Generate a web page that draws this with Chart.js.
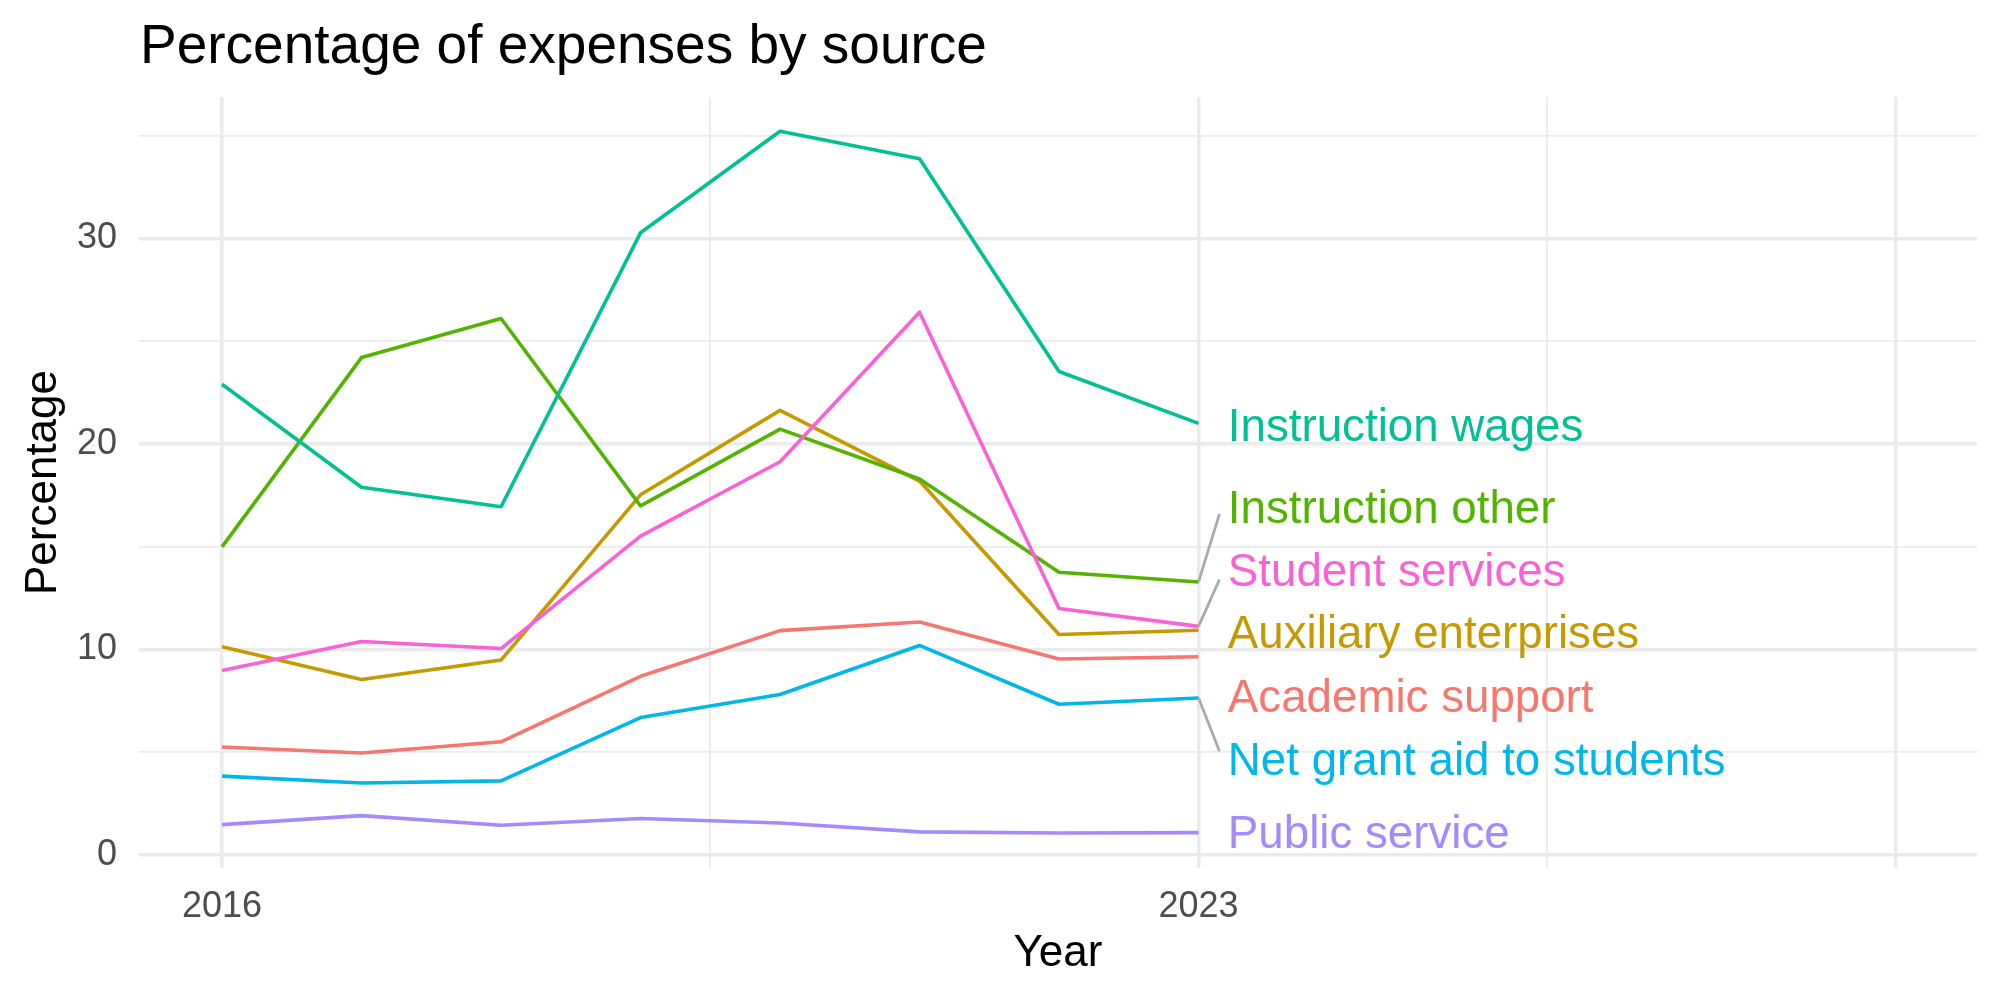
<!DOCTYPE html>
<html>
<head>
<meta charset="utf-8">
<title>Percentage of expenses by source</title>
<script src="https://cdn.jsdelivr.net/npm/chart.js@4.4.1/dist/chart.umd.min.js"></script>
<style>
  html, body { margin: 0; padding: 0; background: #ffffff; }
  #wrap { width: 2000px; height: 1000px; }
</style>
</head>
<body>
<div id="wrap"><canvas id="expensesChart" width="2000" height="1000"></canvas></div>
<script>
// Years and series values
const years = [2016, 2017, 2018, 2019, 2020, 2021, 2022, 2023];
const sources = ["Academic support", "Auxiliary enterprises", "Instruction other", "Instruction wages",
                 "Net grant aid to students", "Public service", "Student services"];
const academicSupport      = [5.25, 4.96, 5.50, 8.69, 10.91, 11.33, 9.53, 9.64];
const auxiliaryEnterprises = [10.13, 8.53, 9.48, 17.52, 21.63, 18.19, 10.72, 10.93];
const instructionOther     = [14.99, 24.20, 26.10, 16.98, 20.72, 18.29, 13.75, 13.28];
const instructionWages     = [22.90, 17.89, 16.94, 30.27, 35.21, 33.88, 23.52, 21.00];
const netGrantAid          = [3.83, 3.50, 3.60, 6.68, 7.80, 10.19, 7.33, 7.63];
const publicService        = [1.47, 1.91, 1.44, 1.77, 1.55, 1.12, 1.06, 1.08];
const studentServices      = [8.97, 10.38, 10.04, 15.51, 19.13, 26.41, 11.99, 11.12];
const seriesValues = [academicSupport, auxiliaryEnterprises, instructionOther, instructionWages,
                      netGrantAid, publicService, studentServices];
const colors = ["#F8766D", "#C49A00", "#53B400", "#00C094", "#00B6EB", "#A58AFF", "#FB61D7"];

// Repelled label positions (y value of each label, same order as sources)
const labelY = [7.75, 10.84, 16.93, 20.94, 4.67, 1.13, 13.87];
const labelX = 2023.21;

// Connector segments for the labels that were pushed away from their line
const segmentSources = ["Instruction other", "Student services", "Net grant aid to students"];
const segmentEndY = [16.59, 13.40, 5.04];
const segmentEndX = 2023.15;

// Axis breaks
const xBreaks = [2016, 2019.5, 2023, 2025.5, 2028];
const xMajor = [2016, 2023, 2028];
const xTickLabels = [2016, 2023];
const yBreaks = [0, 5, 10, 15, 20, 25, 30, 35];
const yTickLabels = [0, 10, 20, 30];

const FONT = "'Liberation Sans', Arial, Helvetica, sans-serif";
Chart.defaults.font.family = FONT;

// Series lines (ggplot draws the first level first, so it ends up at the bottom)
const datasets = sources.map((name, i) => ({
    label: name,
    data: years.map((yr, j) => ({ x: yr, y: seriesValues[i][j] })),
    borderColor: colors[i],
    borderWidth: 3.6,
    borderJoinStyle: "round",
    pointRadius: 0,
    tension: 0,
    fill: false,
    order: 10 - i
}));

// Grey connectors from the last point to the label
segmentSources.forEach((name, k) => {
    const i = sources.indexOf(name);
    datasets.push({
        label: name + " segment",
        data: [{ x: years[years.length - 1], y: seriesValues[i][years.length - 1] },
               { x: segmentEndX, y: segmentEndY[k] }],
        borderColor: "#AAAAAA",
        borderWidth: 2.8,
        pointRadius: 0,
        fill: false,
        order: 0
    });
});

// Plugin for the title and the direct labels
const textPlugin = {
    id: "textPlugin",
    afterDraw(chart) {
        const ctx = chart.ctx;
        const xs = chart.scales.x;
        const ys = chart.scales.y;
        ctx.save();
        ctx.fillStyle = "#000000";
        ctx.font = "55px " + FONT;
        ctx.textAlign = "left";
        ctx.textBaseline = "alphabetic";
        ctx.fillText("Percentage of expenses by source", 140, 63);

        // labels: cap centre sits on the label value
        const size = 45.7;
        ctx.font = size + "px " + FONT;
        sources.forEach((name, i) => {
            ctx.fillStyle = colors[i];
            ctx.fillText(name, xs.getPixelForValue(labelX), ys.getPixelForValue(labelY[i]) + size * 0.358);
        });
        ctx.restore();
    }
};

const chart = new Chart(document.getElementById("expensesChart").getContext("2d"), {
    type: "line",
    data: { datasets: datasets },
    options: {
        responsive: false,
        animation: false,
        devicePixelRatio: 1,
        layout: { padding: { top: 97, right: 23, bottom: 0, left: 0 } },
        plugins: {
            legend: { display: false },
            tooltip: { enabled: false },
            title: { display: false }
        },
        scales: {
            x: {
                type: "linear",
                min: 2015.405,
                max: 2028.58,
                afterBuildTicks: (scale) => { scale.ticks = xBreaks.map(v => ({ value: v })); },
                afterFit: (scale) => { scale.height = 132; },
                grid: {
                    color: "#EBEBEB",
                    lineWidth: (c) => (c.tick && xMajor.includes(c.tick.value)) ? 3.5 : 1.75,
                    drawTicks: false
                },
                border: { display: false },
                ticks: {
                    autoSkip: false,
                    maxRotation: 0,
                    padding: 17,
                    color: "#4D4D4D",
                    font: { size: 36 },
                    callback: (value) => xTickLabels.includes(value) ? String(value) : ""
                },
                title: {
                    display: true,
                    text: "Year",
                    color: "#000000",
                    font: { size: 44 },
                    padding: { top: 0, bottom: 20 }
                }
            },
            y: {
                type: "linear",
                min: -0.64,
                max: 36.88,
                afterBuildTicks: (scale) => { scale.ticks = yBreaks.map(v => ({ value: v })); },
                afterFit: (scale) => { scale.width = 139; },
                grid: {
                    color: "#EBEBEB",
                    lineWidth: (c) => (c.tick && yTickLabels.includes(c.tick.value)) ? 3.5 : 1.75,
                    drawTicks: false
                },
                border: { display: false },
                ticks: {
                    autoSkip: false,
                    padding: 22,
                    color: "#4D4D4D",
                    font: { size: 36 },
                    callback: (value) => yTickLabels.includes(value) ? String(value) : ""
                },
                title: {
                    display: true,
                    text: "Percentage",
                    color: "#000000",
                    font: { size: 44 },
                    padding: { top: 17, bottom: 0 }
                }
            }
        }
    },
    plugins: [textPlugin]
});
</script>
</body>
</html>
